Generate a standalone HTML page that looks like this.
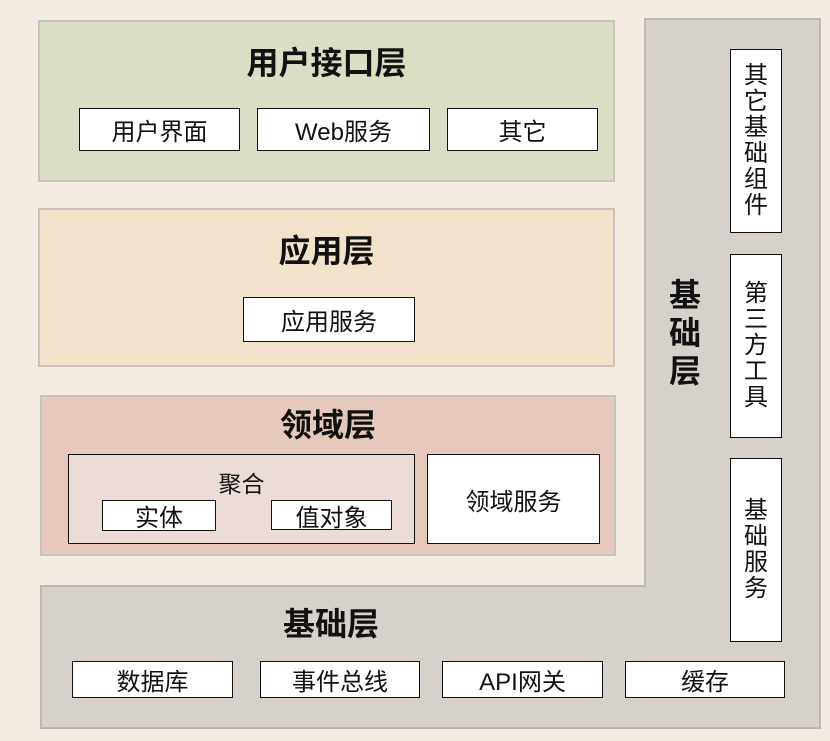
<!DOCTYPE html>
<html><head><meta charset="utf-8"><style>
*{margin:0;padding:0;box-sizing:border-box}
body{width:830px;height:741px;background:#f4ebe2;position:relative;overflow:hidden;font-family:"Liberation Sans","Noto Sans CJK SC",sans-serif;color:#111}
.a{position:absolute}
.layer{position:absolute;border:2px solid #c8c3bd}
.t{position:absolute;left:0;right:0;text-align:center;font-weight:bold;font-size:32px;line-height:1}
.b{position:absolute;background:#fff;border:1.5px solid #111;display:flex;align-items:center;justify-content:center;font-size:24px}
.v{position:absolute;background:#fff;border:1.5px solid #111;display:flex;align-items:center;justify-content:center;font-size:24px;line-height:26px;text-align:center}
</style></head><body>
<svg class="a" style="left:0;top:0" width="830" height="741"><polygon points="645,19 820,19 820,728 41,728 41,586 645,586" fill="#d6d1cb" stroke="#bdb8b2" stroke-width="2"/></svg>

<div class="layer" style="left:38px;top:20px;width:577px;height:162px;background:#d9dec5">
  <div class="t" style="top:25px">用户接口层</div>
</div>
<div class="b" style="left:79px;top:108px;width:161px;height:43px">用户界面</div>
<div class="b" style="left:257px;top:108px;width:173px;height:43px">Web服务</div>
<div class="b" style="left:447px;top:108px;width:151px;height:43px">其它</div>

<div class="layer" style="left:38px;top:208px;width:577px;height:159px;background:#f1e2cc">
  <div class="t" style="top:25px">应用层</div>
</div>
<div class="b" style="left:243px;top:297px;width:172px;height:45px">应用服务</div>

<div class="layer" style="left:40px;top:395px;width:576px;height:161px;background:#e5c9bc">
  <div class="t" style="top:12px">领域层</div>
</div>
<div class="a" style="left:68px;top:454px;width:347px;height:90px;background:#ecdcd8;border:1.5px solid #111"></div>
<div class="a" style="left:68px;top:465px;width:347px;text-align:center;font-size:23px">聚合</div>
<div class="b" style="left:102px;top:500px;width:114px;height:31px">实体</div>
<div class="b" style="left:271px;top:500px;width:121px;height:30px">值对象</div>
<div class="b" style="left:427px;top:454px;width:173px;height:90px">领域服务</div>

<div class="a" style="left:41px;top:608px;width:580px;text-align:center;font-weight:bold;font-size:32px;line-height:1">基础层</div>
<div class="a" style="left:666px;top:276px;width:38px;text-align:center;font-weight:bold;font-size:32px;line-height:38px">基<br>础<br>层</div>
<div class="b" style="left:72px;top:661px;width:161px;height:37px">数据库</div>
<div class="b" style="left:260px;top:661px;width:160px;height:37px">事件总线</div>
<div class="b" style="left:442px;top:661px;width:161px;height:37px">API网关</div>
<div class="b" style="left:625px;top:661px;width:160px;height:37px">缓存</div>

<div class="v" style="left:730px;top:49px;width:52px;height:184px">其<br>它<br>基<br>础<br>组<br>件</div>
<div class="v" style="left:730px;top:254px;width:52px;height:184px">第<br>三<br>方<br>工<br>具</div>
<div class="v" style="left:730px;top:458px;width:52px;height:184px">基<br>础<br>服<br>务</div>
</body></html>
